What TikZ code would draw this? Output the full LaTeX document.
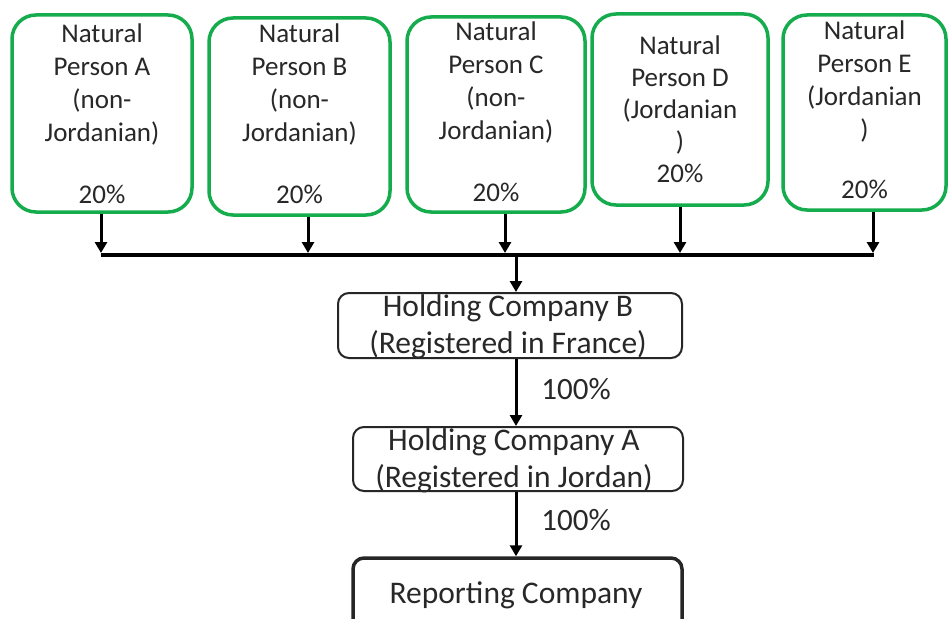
\documentclass[tikz,border=0pt]{standalone}
\usepackage{fontspec}
\setmainfont{Carlito}
\usetikzlibrary{arrows.meta,calc}
\definecolor{ownergreen}{RGB}{20,172,76}
\definecolor{inkgray}{RGB}{40,40,40}
\begin{document}
\begin{tikzpicture}[x=1pt,y=-1pt,
  personbox/.style={draw=ownergreen, line width=3.5pt, rounded corners=24pt, fill=white, inner sep=0pt},
  persontext/.style={text=inkgray, align=center, font=\fontsize{27}{33}\selectfont, inner sep=0pt, anchor=base},
  companybox/.style={draw=black!85, line width=2pt, rounded corners=11pt, inner sep=0pt},
  companytext/.style={text=inkgray, align=center, font=\fontsize{31.5}{37}\selectfont, inner sep=0pt, anchor=base},
  pct/.style={text=inkgray, font=\fontsize{31}{37}\selectfont, inner sep=0pt},
  feed/.style={line width=3pt, -{Triangle[length=11pt,width=12pt]}},
  busline/.style={line width=3.5pt}
]
\clip (0,0) rectangle (949,618);
\fill[white] (0,0) rectangle (949,618);

% owners (text nodes are anchored at the baseline of their last line)
\node[personbox, minimum width=180pt, minimum height=197pt] (pA) at (102,113.5) {};
\node[personbox, minimum width=181pt, minimum height=197pt] (pB) at (299.5,116.5) {};
\node[personbox, minimum width=178pt, minimum height=195pt] (pC) at (496,114.5) {};
\node[personbox, minimum width=176pt, minimum height=191pt] (pD) at (680,109.5) {};
\node[personbox, minimum width=163pt, minimum height=195pt] (pE) at (864.5,112.5) {};

\node[persontext] (tA) at (102,203) {Natural\\Person A\\(non-\\Jordanian)\\[29pt]20\%};
\node[persontext] (tB) at (299.5,203.5) {Natural\\Person B\\(non-\\Jordanian)\\[29pt]20\%};
\node[persontext] (tC) at (496,201) {Natural\\Person C\\(non-\\Jordanian)\\[29pt]20\%};
\node[persontext, font=\fontsize{27}{32}\selectfont] (tD) at (680,182.5) {Natural\\Person D\\(Jordanian\\)\\20\%};
\node[persontext] (tE) at (864.5,198.5) {Natural\\Person E\\(Jordanian\\)\\[27pt]20\%};

% companies
\node[companybox, minimum width=344pt, minimum height=65pt] (hB) at (510,325.5) {};
\node[companytext] (hBt) at (508,353) {Holding Company B\\(Registered in France)};
\node[companybox, minimum width=330pt, minimum height=64pt] (hA) at (518,459) {};
\node[companytext] (hAt) at (514,487) {Holding Company A\\(Registered in Jordan)};
\node[companybox, line width=3.5pt, minimum width=329pt, minimum height=84pt] (rep) at (517.5,600) {};
\node[companytext] (rept) at (516,603) {Reporting Company};

% ownership bus
\coordinate (busL) at (101,255);
\coordinate (busR) at (874,255);
\coordinate (busTop) at (0,253);
\coordinate (spine) at (516,255);

\coordinate (aA) at ([xshift=-1pt]pA.south);
\coordinate (aB) at ([xshift=8.5pt]pB.south);
\coordinate (aC) at ([xshift=9pt]pC.south);
\coordinate (aD) at (pD.south);
\coordinate (aE) at ([xshift=8.5pt]pE.south);

\draw[busline] (busL) -- (busR);
\foreach \a in {aA,aB,aC,aD,aE}
  \draw[feed] (\a) -- (\a |- busTop);

\draw[feed] (spine) -- (spine |- hB.north);
\draw[feed] (hB.south -| spine) -- (hA.north -| spine);
\draw[feed] (hA.south -| spine) -- (rep.north -| spine);

\node[pct] (pct1) at (576,389) {100\%};
\node[pct] (pct2) at (576,520) {100\%};
\end{tikzpicture}
\end{document}
